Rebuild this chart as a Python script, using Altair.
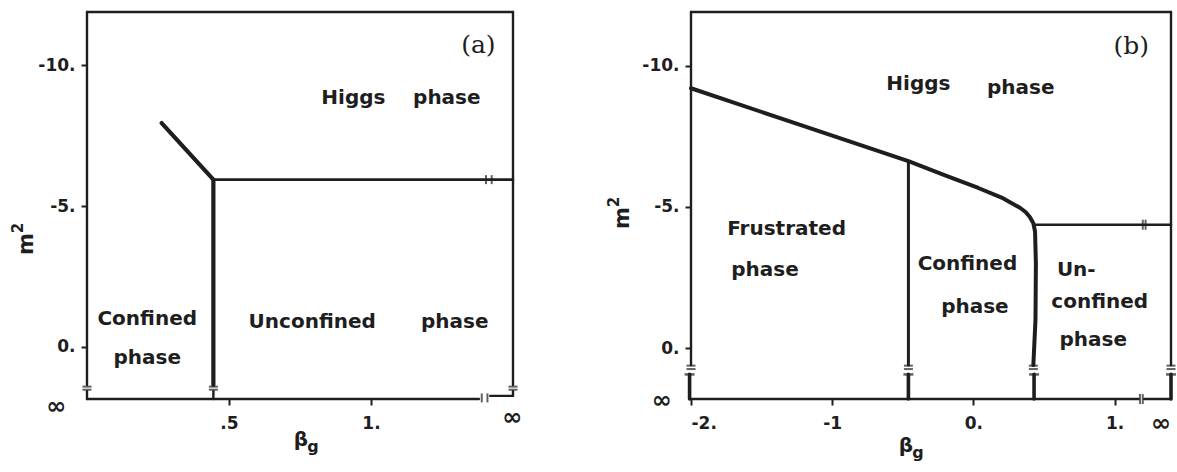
import altair as alt
import pandas as pd

INK = "#1e1e1e"
SANS = "DejaVu Sans"
SERIF = "DejaVu Serif"

# ---------------- panel (a) ----------------
# beta_g axis: the right edge stands for beta_g = infinity
a_beta_dom = [0.0, 1.5]
# m^2 axis (drawn downwards): the bottom row stands for m^2 = infinity
a_m2_dom = [-11.9, 1.86]
a_xticks = [0.5, 1.0]
a_yticks = [-10, -5, 0]

# short first-order line, then the vertical confinement line
a_conf_beta = [0.263, 0.445, 0.445]
a_conf_m2 = [-7.95, -5.94, 1.36]
# Higgs / unconfined boundary
a_higgs_beta = [0.445, 1.5]
a_higgs_m2 = [-5.94, -5.94]

a_words = ["(a)", "Higgs", "phase", "Confined", "phase", "Unconfined", "phase"]
a_word_beta = [1.378, 0.938, 1.267, 0.212, 0.212, 0.793, 1.295]
a_word_m2 = [-10.71, -8.83, -8.83, -0.97, 0.41, -0.87, -0.87]

# ---------------- panel (b) ----------------
b_beta_dom = [-2.0, 1.4]
b_m2_dom = [-11.9, 1.8]
b_xticks = [-2, -1, 0, 1]
b_yticks = [-10, -5, 0]

# Higgs transition line, bending down into the confined / unconfined line
b_main_beta = [-2.0, -1.2, -0.46, -0.2, 0.035, 0.2, 0.269, 0.33, 0.37, 0.4, 0.425, 0.437,
               0.443, 0.44, 0.425]
b_main_m2 = [-9.2, -7.86, -6.62, -6.12, -5.67, -5.33, -5.14, -4.97, -4.82, -4.64, -4.42,
             -4.13, -3.0, -1.0, 0.6]
# frustrated / confined boundary
b_frus_beta = [-0.46, -0.46]
b_frus_m2 = [-6.62, 0.6]
# Higgs / unconfined boundary
b_higgs_beta = [0.44, 1.4]
b_higgs_m2 = [-4.37, -4.37]

b_words = ["(b)", "Higgs", "phase", "Frustrated", "phase", "Confined", "phase",
           "Un-", "confined", "phase"]
b_word_beta = [1.118, -0.389, 0.336, -1.323, -1.476, -0.042, 0.011, 0.729, 0.895, 0.849]
b_word_m2 = [-10.71, -9.36, -9.22, -4.23, -2.78, -2.99, -1.46, -2.78, -1.64, -0.285]


def x_enc(dom, ticks, expr):
    return alt.X("x:Q", scale=alt.Scale(domain=dom, nice=False, zero=False),
                 axis=alt.Axis(values=ticks, labelExpr=expr, title=None, domain=False, grid=False,
                               tickSize=6, tickWidth=2, tickColor=INK, labelPadding=10,
                               labelFont=SANS, labelFontSize=17, labelFontWeight="bold",
                               labelColor=INK))


def y_enc(dom, ticks):
    return alt.Y("y:Q", scale=alt.Scale(domain=dom, nice=False, zero=False, reverse=True),
                 axis=alt.Axis(values=ticks, labelExpr="datum.value + '.'", title=None,
                               domain=False, grid=False, tickSize=6, tickWidth=2, tickColor=INK,
                               labelPadding=6, labelFont=SANS, labelFontSize=17,
                               labelFontWeight="bold", labelColor=INK))


def rules(segs, X, Y, width):
    df = pd.DataFrame(segs, columns=["x", "y", "x2", "y2"])
    return alt.Chart(df).mark_rule(color=INK, strokeWidth=width, strokeCap="round").encode(
        x=X, y=Y, x2="x2:Q", y2="y2:Q")


def curve(beta, m2, X, Y, width):
    df = pd.DataFrame({"x": beta, "y": m2, "i": range(len(beta))})
    return alt.Chart(df).mark_line(color=INK, strokeWidth=width, strokeCap="round",
                                   strokeJoin="round").encode(
        x=X, y=Y, order="i:Q")


def ticks(pts, X, Y, orient, size, width=2):
    df = pd.DataFrame(pts, columns=["x", "y"])
    return alt.Chart(df).mark_tick(color=INK, orient=orient, size=size, thickness=width).encode(
        x=X, y=Y)


def words(txt, beta, m2, X, Y):
    df = pd.DataFrame({"t": txt, "x": beta, "y": m2})
    serif = df[df.t.str.startswith("(")]
    sans = df[~df.t.str.startswith("(")]
    a = alt.Chart(sans).mark_text(font=SANS, fontSize=20, fontWeight="bold", color=INK).encode(
        x=X, y=Y, text="t:N")
    b = alt.Chart(serif).mark_text(font=SERIF, fontSize=25, color=INK).encode(
        x=X, y=Y, text="t:N")
    return a + b


def infinity(pts, X, Y):
    df = pd.DataFrame(pts, columns=["x", "y"])
    return alt.Chart(df).mark_text(text="∞", font=SANS, fontSize=24, fontWeight="bold",
                                   color=INK).encode(x=X, y=Y)


def titles(mx, my, bx, by):
    # rotated m^2 on the left, beta_g under the axis
    base = alt.Chart(pd.DataFrame({"k": [0]}))
    m = base.mark_text(text="m", font=SANS, fontSize=21, fontWeight="bold", angle=270,
                       color=INK).encode(x=alt.value(mx), y=alt.value(my))
    two = base.mark_text(text="2", font=SANS, fontSize=15, fontWeight="bold", angle=270,
                         color=INK).encode(x=alt.value(mx - 9), y=alt.value(my - 16))
    b = base.mark_text(text="β", font=SANS, fontSize=20, fontWeight="bold",
                       color=INK).encode(x=alt.value(bx), y=alt.value(by))
    g = base.mark_text(text="g", font=SANS, fontSize=16, fontWeight="bold",
                       color=INK).encode(x=alt.value(bx + 12), y=alt.value(by + 7))
    return m + two + b + g


# ---------- build panel (a) ----------
XA = x_enc(a_beta_dom, a_xticks, "datum.value == 0.5 ? '.5' : datum.value + '.'")
YA = y_enc(a_m2_dom, a_yticks)
a_top, a_inf = a_m2_dom
a_right = a_beta_dom[1]
v_line = a_conf_beta[-1]
panel_a = alt.layer(
    rules([(0, a_top, a_right, a_top), (0, a_top, 0, 1.36), (a_right, a_top, a_right, 1.36),
           (0, a_inf, 1.38, a_inf), (0, 1.58, 0, a_inf), (v_line, 1.58, v_line, a_inf),
           (a_right, 1.58, a_right, 1.75), (1.42, 1.75, a_right, 1.75)], XA, YA, 2.4),
    curve(a_higgs_beta, a_higgs_m2, XA, YA, 2.6),
    curve(a_conf_beta, a_conf_m2, XA, YA, 4.2),
    ticks([(b, m) for b in (0, v_line, a_right) for m in (1.42, 1.53)], XA, YA, "horizontal", 9),
    ticks([(1.39, 1.82), (1.41, 1.82), (1.405, -5.94), (1.425, -5.94)], XA, YA, "vertical", 9),
    words(a_words, a_word_beta, a_word_m2, XA, YA),
    infinity([(-0.108, 2.13), (1.497, 2.55)], XA, YA),
    titles(-60, 232, 214, 428),
).properties(width=426, height=387)

# ---------- build panel (b) ----------
XB = x_enc(b_beta_dom, b_xticks, "datum.value == -1 ? '-1' : datum.value + '.'")
YB = y_enc(b_m2_dom, b_yticks)
b_top, b_inf = b_m2_dom
b_left, b_right = b_beta_dom
stems = [b_left - 0.01, b_frus_beta[0], b_main_beta[-1] + 0.005, b_right]
panel_b = alt.layer(
    rules([(b_left, b_top, b_right, b_top), (b_left, b_top, b_left, 0.6),
           (b_right, b_top, b_right, 0.6), (b_left, b_inf, 1.17, b_inf),
           (1.21, b_inf, b_right, b_inf)], XB, YB, 2.4),
    rules([(s, 0.93, s, b_inf) for s in stems], XB, YB, 3.6),
    ticks([(s, 0.93) for s in stems], XB, YB, "horizontal", 10, 2.5),
    ticks([(s, m) for s in (b_left, b_frus_beta[0], b_main_beta[-1], b_right)
           for m in (0.62, 0.74)], XB, YB, "horizontal", 9),
    ticks([(1.18, b_inf), (1.2, b_inf), (1.2, -4.37), (1.22, -4.37)], XB, YB, "vertical", 10),
    curve(b_higgs_beta, b_higgs_m2, XB, YB, 2.6),
    curve(b_frus_beta, b_frus_m2, XB, YB, 3.0),
    curve(b_main_beta, b_main_m2, XB, YB, 4.0),
    words(b_words, b_word_beta, b_word_m2, XB, YB),
    infinity([(-2.208, 1.86), (1.33, 2.69)], XB, YB),
    titles(-68, 206, 215, 434),
).properties(width=480, height=387)

chart = alt.hconcat(panel_a, panel_b, spacing=178, bounds="flush").properties(
    padding={"left": 11, "top": 10, "right": 0, "bottom": 0},
    background="white",
).configure_view(stroke=None)

chart.save("out.html", embed_options={"renderer": "svg", "actions": False})
